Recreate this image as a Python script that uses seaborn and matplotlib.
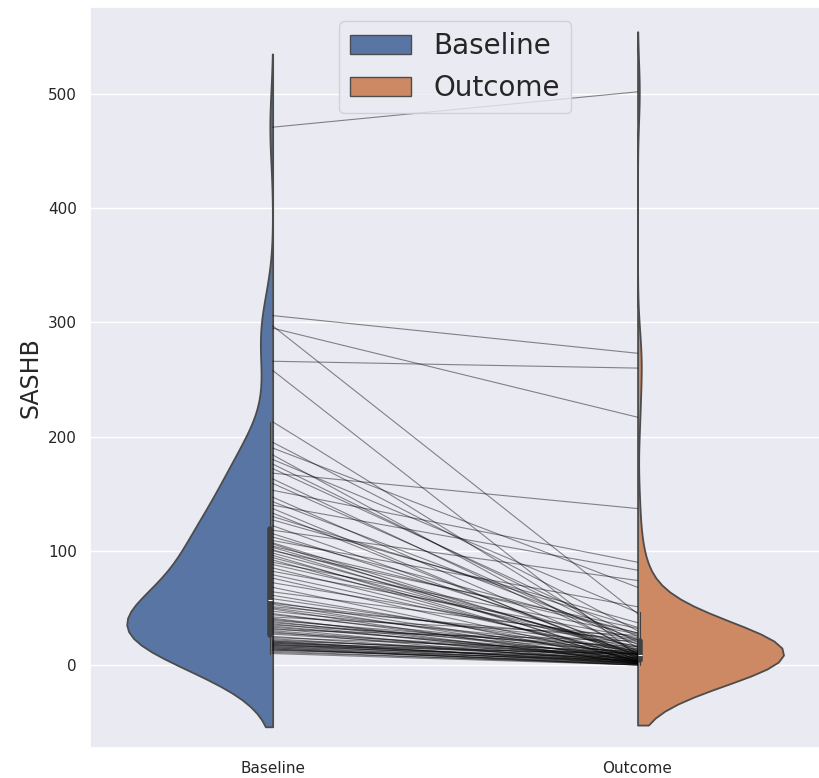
import numpy as np
import pandas as pd
import matplotlib
matplotlib.use("Agg")
import matplotlib.pyplot as plt
from matplotlib.patches import Patch
from matplotlib.collections import PolyCollection
import seaborn as sns

# Paired observations (one subject per position)
baseline = [471, 306, 297, 295, 266, 258, 213, 195, 190, 184, 180, 176, 172, 168,
            163, 159, 153, 147, 143, 140, 137, 133, 130, 127, 122, 118, 115, 112,
            109, 107, 106, 104, 103, 101, 100, 98, 96, 94, 92, 90, 88, 85, 82, 79,
            76, 72, 68, 64, 61, 58,
            55, 54, 53, 51, 50, 49, 47, 45, 44, 42, 41, 40, 39, 38, 37, 36, 35,
            34, 33, 32, 31, 30, 29, 28, 27, 25, 24, 23,
            22, 21, 21, 20, 20, 19, 19, 18, 18, 17, 17, 16, 16, 15, 15, 14, 14,
            13, 13, 12, 11, 10]
outcome = [502, 273, 45, 217, 260, 8, 15, 30, 68, 10, 46, 20, 25, 137,
           12, 18, 90, 7, 22, 83, 4, 6, 33, 37, 9, 74, 14, 28,
           51, 9, 3, 28, 11, 5, 32, 13, 2, 11, 3, 27, 16, 7, 24, 10,
           4, 19, 2, 23, 8, 12,
           6, 17, 3, 22, 9, 1, 14, 5, 10, 26, 2, 7, 13, 4, 11, 3, 16,
           6, 9, 2, 21, 5, 1, 10, 8, 3, 12, 4,
           7, 1, 10, 2, 6, 9, 3, 5, 1, 10, 4, 2, 6, 0, 3, 1, 0,
           2, 4, 0, 1, 0]
groups = ["Baseline", "Outcome"]
ylabel = "SASHB"

n = len(baseline)
df = pd.DataFrame({
    "subject": list(range(n)) * 2,
    "time": [groups[0]] * n + [groups[1]] * n,
    ylabel: baseline + outcome,
})
df["group"] = df["time"]

sns.set_theme(style="darkgrid")
fig = plt.figure(figsize=(8.2, 7.78), dpi=100)
ax = fig.add_axes([0.11, 0.0386, 0.89, 0.952])

sns.violinplot(data=df, x="time", y=ylabel, hue="group", order=groups,
               hue_order=groups, split=True, dodge=True, inner="box",
               density_norm="width", linewidth=1.3,
               inner_kws=dict(box_width=4, whis_width=0.8, color="0.25"),
               ax=ax)
sns.lineplot(data=df, x="time", y=ylabel, units="subject", estimator=None,
             color="black", alpha=0.45, linewidth=0.8, ax=ax, legend=False)

ax.set_xlim(-0.5, 1.5)
ax.set_ylim(-72.7, 576)
ax.set_yticks([0, 100, 200, 300, 400, 500])
ax.set_xlabel("")
ax.set_ylabel(ylabel, fontsize=17)

polys = [c for c in ax.collections if isinstance(c, PolyCollection)]
handles = [Patch(facecolor=p.get_facecolor()[0], edgecolor=p.get_edgecolor()[0],
                 linewidth=1) for p in polys[:2]]
ax.legend(handles, groups, loc="upper center", fontsize=20, handlelength=2.2)

fig.savefig("out.png", dpi=100)
